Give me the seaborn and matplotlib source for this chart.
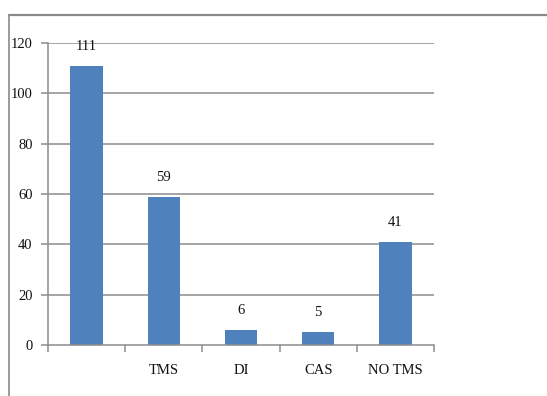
import matplotlib
matplotlib.use("Agg")
import matplotlib.pyplot as plt
from matplotlib.lines import Line2D
import seaborn as sns
import pandas as pd

categories = ["", "TMS", "DI", "CAS", "NO TMS"]
counts = [111, 59, 6, 5, 41]
y_ticks = [0, 20, 40, 60, 80, 100, 120]

sns.set_style("white")
plt.rcParams["font.family"] = ["Liberation Serif", "DejaVu Serif"]

df = pd.DataFrame({"category": categories, "count": counts})

fig = plt.figure(figsize=(5.47, 3.96), dpi=100)
ax = fig.add_axes([48 / 547, 1 - 345 / 396, (434 - 48) / 547, (345 - 43) / 396])

bar_color = "#4F81BD"
sns.barplot(data=df, x="category", y="count", order=categories,
            color=bar_color, saturation=1, width=0.42, linewidth=0, ax=ax)

fs = 10.5
for i, v in enumerate(counts):
    ax.annotate(str(v), (i, v), xytext=(0, 14), textcoords="offset points",
                ha="center", va="center", fontsize=fs, color="#111111")

grid_c = "#8c8c8c"
ax.set_ylim(0, 120)
ax.set_yticks(y_ticks)
ax.set_yticklabels([str(t) for t in y_ticks])
for t in y_ticks[1:]:
    ax.axhline(t, color=grid_c, lw=1.1, zorder=0)

ax.set_xlim(-0.5, len(categories) - 0.5)
ax.set_xticks([i - 0.5 for i in range(len(categories) + 1)])
ax.set_xticklabels([])
ax.set_xticks(range(len(categories)), minor=True)
ax.set_xticklabels(categories, minor=True)
ax.tick_params(axis="x", which="major", direction="out", length=5, width=1.1,
               color=grid_c, bottom=True)
ax.tick_params(axis="x", which="minor", length=0, pad=14, labelsize=fs,
               labelcolor="#111111")
ax.tick_params(axis="y", direction="out", length=5, width=1.1, color=grid_c,
               left=True, pad=6, labelsize=fs, labelcolor="#111111")

ax.set_xlabel("")
ax.set_ylabel("")
for side in ["top", "right"]:
    ax.spines[side].set_visible(False)
for side in ["left", "bottom"]:
    ax.spines[side].set_color(grid_c)
    ax.spines[side].set_linewidth(1.1)

# outer frame lines along the top and left edge of the figure
fig.add_artist(Line2D([9 / 547, 1], [1 - 15 / 396] * 2, color="#8a8a8a", lw=1.6,
                      transform=fig.transFigure))
fig.add_artist(Line2D([9 / 547] * 2, [0, 1 - 15 / 396], color="#8a8a8a", lw=1.2,
                      transform=fig.transFigure))

fig.savefig("out.png", dpi=100)
